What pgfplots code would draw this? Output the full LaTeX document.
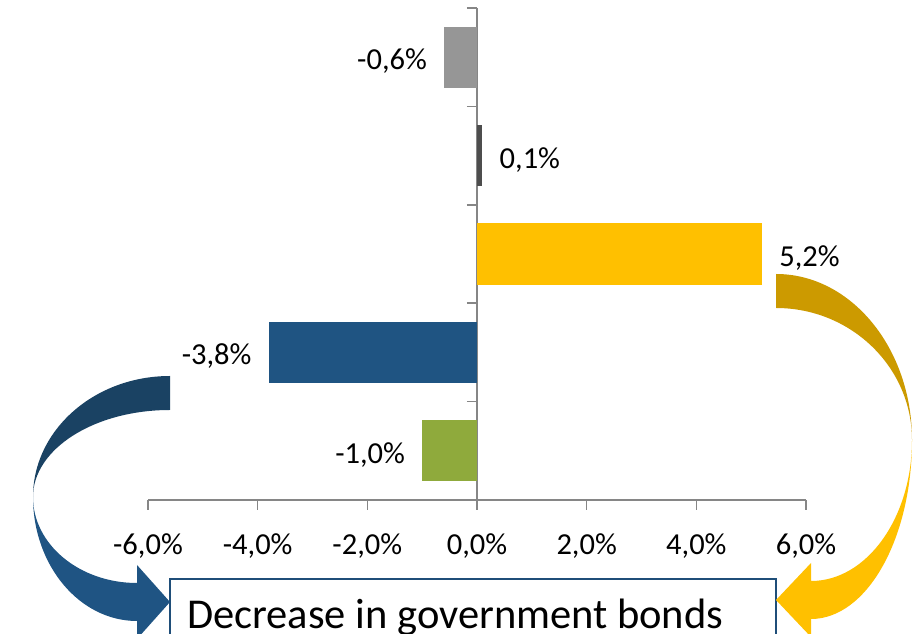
\documentclass[border=0pt]{standalone}
\usepackage{fontspec}
\setmainfont{Carlito}
\usepackage{pgfplots}
\pgfplotsset{compat=1.18}
\definecolor{axisgray}{HTML}{868686}
\definecolor{barGray}{HTML}{969696}
\definecolor{barDark}{HTML}{4D4D4D}
\definecolor{barGold}{HTML}{FFC000}
\definecolor{barBlue}{HTML}{1F5482}
\definecolor{barGreen}{HTML}{8FAA3C}
\definecolor{arrBlueDark}{HTML}{1A4263}
\definecolor{arrBlueLight}{HTML}{1F5483}
\definecolor{arrGoldDark}{HTML}{CC9A00}
\definecolor{arrGoldLight}{HTML}{FFC000}
\definecolor{boxBlue}{HTML}{1F4E79}
\begin{document}
\begin{tikzpicture}
\useasboundingbox (0,0) rectangle (913pt,634pt);
\begin{axis}[
  at={(148pt,134pt)}, anchor=south west,
  scale only axis, width=658pt, height=492pt,
  xmin=-6, xmax=6, ymin=0.5, ymax=5.5,
  enlargelimits=false, clip=false,
  axis x line=bottom, axis y line=middle,
  axis line style={-, draw=axisgray, line width=1.5pt},
  hide obscured x ticks=false,
  xtick={-6,-4,-2,0,2,4,6},
  ytick={0.5,1.5,2.5,3.5,4.5,5.5},
  yticklabels={},
  tick align=outside,
  major tick length=10pt,
  tick style={draw=axisgray, line width=1.5pt},
  /pgf/number format/.cd, fixed, fixed zerofill, precision=1, use comma, assume math mode=true,
  /pgfplots/.cd,
  xticklabel={\pgfmathprintnumber{\tick}\%},
  every tick label/.append style={font=\fontsize{30.5}{36}\selectfont, text=black},
  xticklabel style={yshift=-20pt},
  point meta=x,
  nodes near coords={\pgfmathprintnumber{\pgfplotspointmeta}\%},
  every node near coord/.append style={font=\fontsize{30.5}{36}\selectfont, text=black, inner xsep=17pt, inner ysep=0pt, yshift=-4pt},
]
\addplot[xbar, bar width=0.62, bar shift=0pt, fill=barGray, draw=none] coordinates {(-0.6,5)};
\addplot[xbar, bar width=0.62, bar shift=0pt, fill=barDark, draw=none] coordinates {(0.1,4)};
\addplot[xbar, bar width=0.62, bar shift=0pt, fill=barGold, draw=none] coordinates {(5.2,3)};
\addplot[xbar, bar width=0.62, bar shift=0pt, fill=barBlue, draw=none] coordinates {(-3.8,2)};
\addplot[xbar, bar width=0.62, bar shift=0pt, fill=barGreen, draw=none] coordinates {(-1.0,1)};
\end{axis}
% text box
\draw[boxBlue, line width=1.5pt, fill=white] (170pt,-20pt) rectangle (776pt,55pt);
\node[anchor=base west, inner sep=0pt, font=\fontsize{42.5}{50}\selectfont] at (187pt,5pt) {Decrease in government bonds};
% blue curved arrow
\fill[arrBlueDark] (170pt,258pt) arc[start angle=90, end angle=180, x radius=137pt, y radius=121pt]
  arc[start angle=180, end angle=90, x radius=137pt, y radius=87pt] -- cycle;
\fill[arrBlueLight] (33pt,137pt) arc[start angle=180, end angle=270, x radius=104pt, y radius=124pt]
  -- (137pt,-5pt) -- (170pt,32pt) -- (137pt,69pt) -- (137pt,51pt)
  arc[start angle=270, end angle=180, x radius=104pt, y radius=86pt] -- cycle;
% gold curved arrow
\fill[arrGoldDark] (776pt,360pt) arc[start angle=90, end angle=0, x radius=136pt, y radius=166pt]
  arc[start angle=0, end angle=90, x radius=136pt, y radius=132pt] -- cycle;
\fill[arrGoldLight] (912pt,194pt) arc[start angle=0, end angle=-90, x radius=101pt, y radius=179pt]
  -- (811pt,-3pt) -- (776pt,34pt) -- (811pt,71pt) -- (811pt,53pt)
  arc[start angle=-90, end angle=0, x radius=101pt, y radius=141pt] -- cycle;
\end{tikzpicture}
\end{document}
